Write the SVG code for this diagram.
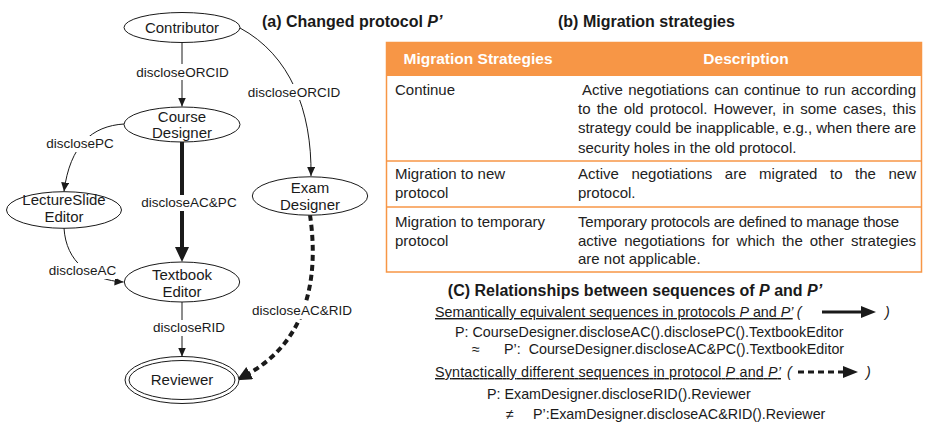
<svg xmlns="http://www.w3.org/2000/svg" width="926" height="426" viewBox="0 0 926 426">
<defs>
<marker id="ah" markerUnits="userSpaceOnUse" markerWidth="10" markerHeight="10" refX="9" refY="4" orient="auto"><path d="M0,0 L9,4 L0,8 z" fill="#1a1a1a"/></marker>
<marker id="ahb" markerUnits="userSpaceOnUse" markerWidth="16" markerHeight="16" refX="2" refY="7" orient="auto"><path d="M0,0 L15,7 L0,14 z" fill="#1a1a1a"/></marker>
<style>
.node ellipse{fill:#fff;stroke:#1a1a1a;stroke-width:1}
.nl{font-family:"Liberation Sans",Arial,sans-serif;font-size:15px;fill:#1a1a1a;text-anchor:middle}
.el{font-family:"Liberation Sans",Arial,sans-serif;font-size:13.5px;fill:#1a1a1a;text-anchor:middle}
.bg{fill:#fff}
.thin{fill:none;stroke:#1a1a1a;stroke-width:1}
.thick{fill:none;stroke:#1a1a1a;stroke-width:4}
.dash{fill:none;stroke:#1a1a1a;stroke-width:4;stroke-dasharray:6 4}
.title{font-family:"Liberation Sans",Arial,sans-serif;font-size:16px;font-weight:bold;fill:#1a1a1a}
.th{font-family:"Liberation Sans",Arial,sans-serif;font-size:15.5px;font-weight:bold;fill:#fff;text-anchor:middle}
.td{font-family:"Liberation Sans",Arial,sans-serif;font-size:15px;fill:#222}
.seq{font-family:"Liberation Sans",Arial,sans-serif;font-size:14.3px;fill:#1a1a1a}
.it{font-style:italic}
.tb{fill:none;stroke:#F79646;stroke-width:1.5}
</style>
</defs>
<rect width="926" height="426" fill="#fff"/>

<g id="connectors">
<path class="thin" d="M182,42 L182,106.5" marker-end="url(#ah)"/>
<path class="thin" d="M240,28 C290,55 312,110 311,176" marker-end="url(#ah)"/>
<path class="thin" d="M124,124 C92,126 70,145 64,191.5" marker-end="url(#ah)"/>
<path class="thick" d="M182,142 L182,249" marker-end="url(#ahb)"/>
<path class="thin" d="M64,228 C66,262 90,280 123.5,282" marker-end="url(#ah)"/>
<path class="thin" d="M182,302 L182,356.5" marker-end="url(#ah)"/>
<path class="dash" d="M310,215 C318,270 312,338 248,374" marker-end="url(#ahb)"/>
<rect class="bg" x="136" y="64" width="93" height="16"/>
<text class="el" x="182.5" y="76.5">discloseORCID</text>
<rect class="bg" x="247" y="84" width="94" height="16"/>
<text class="el" x="294" y="96.5">discloseORCID</text>
<rect class="bg" x="46" y="136" width="68" height="16"/>
<text class="el" x="80" y="148">disclosePC</text>
<rect class="bg" x="141" y="195" width="96" height="16"/>
<text class="el" x="189" y="206.5">discloseAC&amp;PC</text>
<rect class="bg" x="48" y="263" width="69" height="16"/>
<text class="el" x="82.5" y="275">discloseAC</text>
<rect class="bg" x="152" y="320" width="74" height="16"/>
<text class="el" x="189" y="331.5">discloseRID</text>
<rect class="bg" x="252" y="303" width="101" height="16"/>
<text class="el" x="302" y="315">discloseAC&amp;RID</text>
</g>

<g id="contributor" class="node">
<ellipse cx="182" cy="27.5" rx="58" ry="15"/>
<text class="nl" x="182" y="33">Contributor</text>
</g>
<g id="course-designer" class="node">
<ellipse cx="182" cy="124.5" rx="58" ry="17.5"/>
<text class="nl" x="182" y="121.5">Course</text>
<text class="nl" x="182" y="138">Designer</text>
</g>
<g id="lectureslide-editor" class="node">
<ellipse cx="64" cy="210" rx="57.5" ry="18.3"/>
<text class="nl" x="64" y="205">LectureSlide</text>
<text class="nl" x="64" y="221.5">Editor</text>
</g>
<g id="exam-designer" class="node">
<ellipse cx="310" cy="196" rx="57.7" ry="19.2"/>
<text class="nl" x="310" y="193">Exam</text>
<text class="nl" x="310" y="209.5">Designer</text>
</g>
<g id="textbook-editor" class="node">
<ellipse cx="182" cy="282" rx="57.7" ry="20"/>
<text class="nl" x="182" y="279.5">Textbook</text>
<text class="nl" x="182" y="296.5">Editor</text>
</g>
<g id="reviewer" class="node">
<ellipse cx="182" cy="380" rx="57" ry="23.5"/>
<ellipse cx="182" cy="380" rx="53" ry="19.5"/>
<text class="nl" x="182" y="385">Reviewer</text>
</g>

<g id="titles">
<text class="title" x="262" y="27">(a) Changed protocol <tspan class="it">P’</tspan></text>
<text class="title" x="558" y="27">(b) Migration strategies</text>
</g>

<g id="table">
<rect x="386" y="42" width="536" height="34" fill="#F79646"/>
<rect class="tb" x="386.5" y="42.5" width="535" height="229.5"/>
<line class="tb" x1="386.5" y1="161" x2="921.5" y2="161"/>
<line class="tb" x1="386.5" y1="207" x2="921.5" y2="207"/>
<text class="th" x="478" y="64">Migration Strategies</text>
<text class="th" x="746" y="64">Description</text>
<text class="td" x="395" y="95">Continue</text>
<text class="td" x="582" y="95" word-spacing="1.2" textLength="334" lengthAdjust="spacing">Active negotiations can continue to run according</text>
<text class="td" x="578" y="114" word-spacing="1.9" textLength="338" lengthAdjust="spacing">to the old protocol. However, in some cases, this</text>
<text class="td" x="578" y="133.3" textLength="338" lengthAdjust="spacing">strategy could be inapplicable, e.g., when there are</text>
<text class="td" x="578" y="152.5">security holes in the old protocol.</text>
<text class="td" x="395" y="179.3">Migration to new</text>
<text class="td" x="395" y="198.3">protocol</text>
<text class="td" x="578" y="179.3" word-spacing="8.4" textLength="338" lengthAdjust="spacing">Active negotiations are migrated to the new</text>
<text class="td" x="578" y="198.3">protocol.</text>
<text class="td" x="395" y="226.7">Migration to temporary</text>
<text class="td" x="395" y="245.5">protocol</text>
<text class="td" x="578" y="226.7" textLength="321" lengthAdjust="spacing">Temporary protocols are defined to manage those</text>
<text class="td" x="578" y="245.5" word-spacing="2.8" textLength="338" lengthAdjust="spacing">active negotiations for which the other strategies</text>
<text class="td" x="578" y="264.3">are not applicable.</text>
</g>

<g id="relationships">
<text class="title" x="635" y="296" text-anchor="middle">(C) Relationships between sequences of <tspan class="it">P</tspan> and <tspan class="it">P’</tspan></text>
<text class="seq" x="435" y="317"><tspan text-decoration="underline">Semantically equivalent sequences in protocols <tspan class="it">P</tspan> and <tspan class="it">P’</tspan></tspan><tspan class="it"> (</tspan></text>
<line x1="822" y1="312" x2="862" y2="312" stroke="#1a1a1a" stroke-width="3"/>
<path d="M861,306 L876,312 L861,318 z" fill="#1a1a1a"/>
<text class="seq it" x="885" y="317">)</text>
<text class="seq" x="455" y="337">P: CourseDesigner.discloseAC().disclosePC().TextbookEditor</text>
<text class="seq" x="472" y="354">≈</text>
<text class="seq" x="504" y="354" style="white-space:pre">P’:  CourseDesigner.discloseAC&amp;PC().TextbookEditor</text>
<text class="seq" x="435" y="377" textLength="346" lengthAdjust="spacing"><tspan text-decoration="underline">Syntactically different sequences in protocol <tspan class="it">P</tspan> and <tspan class="it">P’</tspan></tspan></text>
<text class="seq it" x="787" y="377">(</text>
<line x1="798" y1="372" x2="845" y2="372" stroke="#1a1a1a" stroke-width="3" stroke-dasharray="6 4"/>
<path d="M843,366 L858,372 L843,378 z" fill="#1a1a1a"/>
<text class="seq it" x="866" y="377">)</text>
<text class="seq" x="487" y="399">P: ExamDesigner.discloseRID().Reviewer</text>
<text class="seq" x="506" y="419">≠</text>
<text class="seq" x="533" y="419">P’:ExamDesigner.discloseAC&amp;RID().Reviewer</text>
</g>
</svg>
